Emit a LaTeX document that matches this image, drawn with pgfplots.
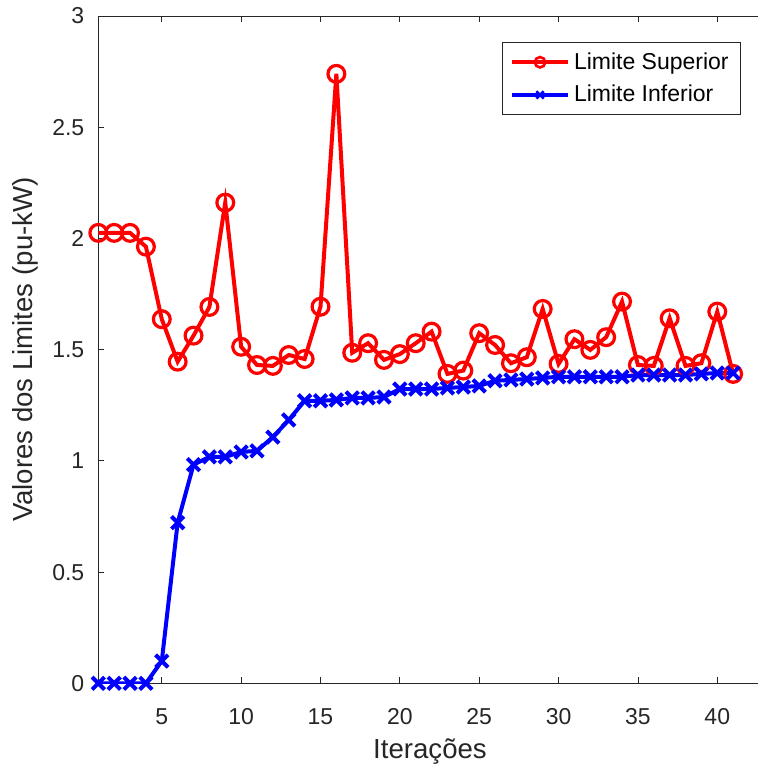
\documentclass[border=0pt]{standalone}
\usepackage{fontspec}
\setmainfont{Liberation Sans}
\usepackage{pgfplots}
\pgfplotsset{compat=1.18}

\definecolor{axgray}{rgb}{0.15,0.15,0.15}

\pgfplotstableread{
it  sup    inf
1   2.025  0
2   2.025  0
3   2.025  0
4   1.963  0
5   1.637  0.100
6   1.446  0.722
7   1.563  0.983
8   1.692  1.018
9   2.161  1.018
10  1.513  1.040
11  1.431  1.045
12  1.427  1.107
13  1.476  1.184
14  1.458  1.270
15  1.693  1.270
16  2.740  1.274
17  1.486  1.283
18  1.529  1.283
19  1.454  1.287
20  1.480  1.323
21  1.529  1.323
22  1.581  1.323
23  1.391  1.328
24  1.406  1.332
25  1.574  1.337
26  1.521  1.360
27  1.439  1.364
28  1.466  1.368
29  1.683  1.373
30  1.436  1.378
31  1.547  1.378
32  1.499  1.378
33  1.556  1.378
34  1.716  1.378
35  1.431  1.386
36  1.427  1.386
37  1.641  1.386
38  1.427  1.386
39  1.439  1.391
40  1.671  1.395
41  1.391  1.395
}\limites

\begin{document}
\begin{tikzpicture}
\begin{axis}[
  name=ax, at={(0,0)}, anchor=south west,
  scale only axis, width=331.7pt, height=333.65pt,
  xmin=1, xmax=42.8, ymin=0, ymax=3,
  axis y line*=left,
  xtick={5,10,...,40}, ytick={0,0.5,...,3},
  tick align=inside, major tick length=3pt,
  axis line style={axgray, line width=0.4pt},
  every tick/.style={axgray, line width=0.4pt},
  tick label style={font=\fontsize{11.5}{13}\selectfont, text=axgray},
  xticklabel style={yshift=-9pt},
  yticklabel style={xshift=-3.5pt},
  /pgf/number format/assume math mode=true,
  label style={font=\fontsize{13.8}{16}\selectfont, text=axgray},
  xlabel={Iterações}, ylabel={Valores dos Limites (pu-kW)},
  legend style={at={(1,1)}, anchor=north east, xshift=-10.3pt, yshift=-13pt,
    draw=axgray, line width=0.4pt, font=\fontsize{11.5}{14}\selectfont,
    inner xsep=4pt, inner ysep=3pt, row sep=2.5pt},
  legend cell align=left,
  legend image code/.code={
    \draw[#1, mark repeat=2, mark phase=2, mark size=2.6pt, mark options={solid, line width=1.3pt}]
      plot coordinates {(0pt,0pt) (14pt,0pt) (28pt,0pt)};},
]
\addplot[red, line width=2pt, mark=o, mark size=4.2pt, mark options={line width=1.6pt}]
  table[x=it, y=sup] {\limites};
\addlegendentry{Limite Superior}
\addplot[blue, line width=2pt, mark=x, mark size=4.4pt, mark options={line width=2pt}]
  table[x=it, y=inf] {\limites};
\addlegendentry{Limite Inferior}
\end{axis}
\pgfresetboundingbox
\path[use as bounding box] (-49.15pt,-41.85pt) rectangle (329.35pt,341.65pt);
\end{tikzpicture}
\end{document}
